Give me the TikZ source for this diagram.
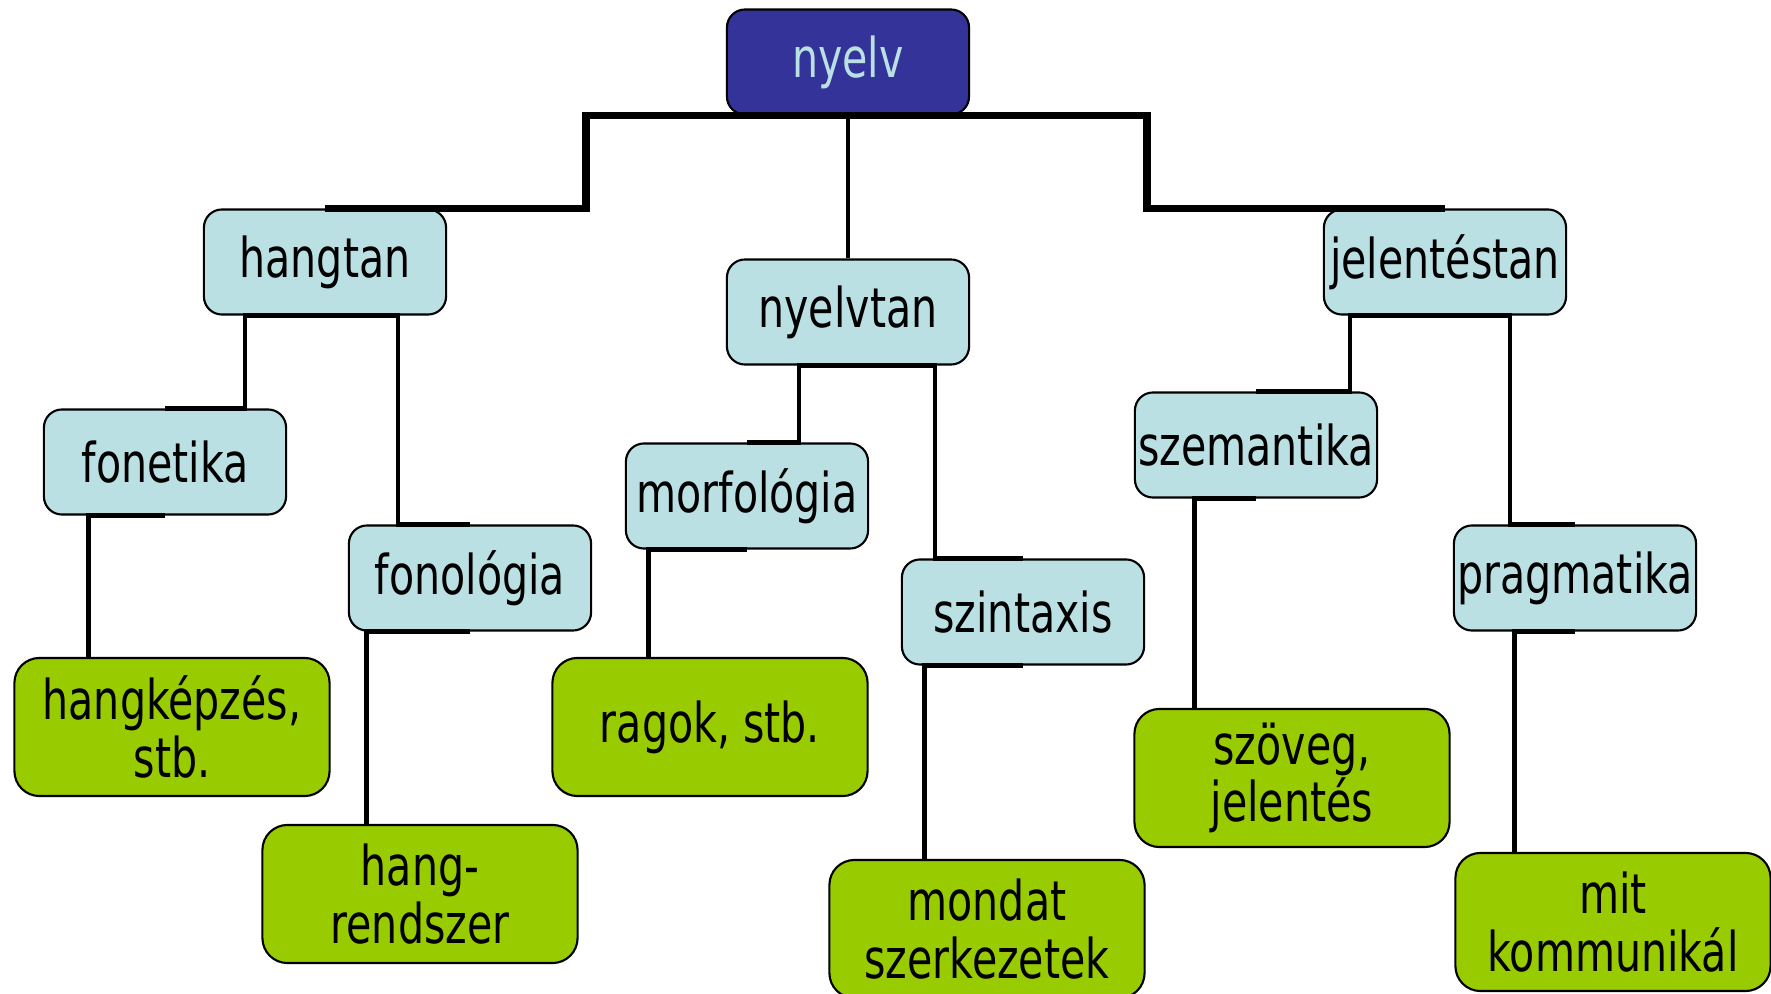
\documentclass[tikz,border=0pt]{standalone}
\usepackage{fontspec}
\setmainfont{DejaVu Sans}[FakeStretch=0.75]
\usetikzlibrary{positioning}
\definecolor{rootblue}{HTML}{333399}
\definecolor{paleblue}{HTML}{BBE0E3}
\definecolor{leafgreen}{HTML}{99CC00}

\begin{document}
\begin{tikzpicture}[
x=0.01cm,
y=-0.01cm,
every node/.style={
draw,
line width=0.6pt,
rounded corners=0.18cm,
align=center,
inner sep=0.5pt,
font=\fontsize{15.6}{16.4}\selectfont
},
branch/.style={fill=paleblue, minimum width=2.42cm, minimum height=1.05cm},
leaf/.style={fill=leafgreen, minimum width=3.15cm, minimum height=1.38cm, rounded corners=0.25cm},
link/.style={line width=1.4pt},
toplink/.style={line width=2.2pt}
]
\useasboundingbox (0,0) rectangle (1771,994);

\node[branch, fill=rootblue, text=paleblue] (nyelv) at (848,62) {nyelv};

\node[branch] (hangtan) at (325,262) {hangtan};
\node[branch] (nyelvtan) at (848,312) {nyelvtan};
\node[branch] (jelentestan) at (1445,262) {jelentéstan};

\node[branch] (fonetika) at (165,462) {fonetika};
\node[branch] (fonologia) at (470,578) {fonológia};
\node[branch] (morfologia) at (747,496) {morfológia};
\node[branch] (szintaxis) at (1023,612) {szintaxis};
\node[branch] (szemantika) at (1256,445) {szemantika};
\node[branch] (pragmatika) at (1575,578) {pragmatika};

\node[leaf] (hangkepzes) at (172,727) {hangképzés,\\stb.};
\node[leaf] (hangrendszer) at (420,894) {hang-\\rendszer};
\node[leaf] (ragok) at (710,727) {ragok, stb.};
\node[leaf] (mondat) at (987,929) {mondat\\szerkezetek};
\node[leaf] (szoveg) at (1292,778) {szöveg,\\jelentés};
\node[leaf] (mit) at (1613,922) {mit\\kommunikál};

\draw[toplink] (nyelv.south) -- ++(-262,0) |- (hangtan.north);
\draw[toplink] (nyelv.south) -- ++(299,0) |- (jelentestan.north);
\draw[link] (nyelv.south) -- (nyelvtan.north);

\draw[link] (hangtan.south) -- ++(-80,0) |- (fonetika.north);
\draw[link] (hangtan.south) -- ++(73,0) |- (fonologia.north);
\draw[link] (nyelvtan.south) -- ++(-49,0) |- (morfologia.north);
\draw[link] (nyelvtan.south) -- ++(87,0) |- (szintaxis.north);
\draw[link] (jelentestan.south) -- ++(-95,0) |- (szemantika.north);
\draw[link] (jelentestan.south) -- ++(65,0) |- (pragmatika.north);

\draw[link] (fonetika.south) -| ([xshift=0.75cm]hangkepzes.north west);
\draw[link] (fonologia.south) -| ([xshift=1.05cm]hangrendszer.north west);
\draw[link] (morfologia.south) -| ([xshift=0.97cm]ragok.north west);
\draw[link] (szintaxis.south) -| ([xshift=0.96cm]mondat.north west);
\draw[link] (szemantika.south) -| ([xshift=0.61cm]szoveg.north west);
\draw[link] (pragmatika.south) -| ([xshift=0.60cm]mit.north west);

\end{tikzpicture}
\end{document}
